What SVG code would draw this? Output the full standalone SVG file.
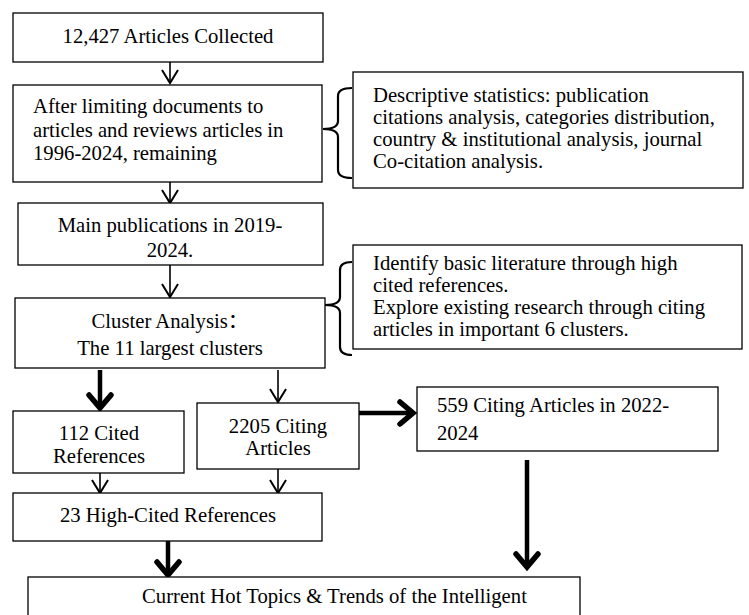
<svg xmlns="http://www.w3.org/2000/svg" width="749" height="615" viewBox="0 0 749 615">
<style>
.box{fill:#fff;stroke:#000;stroke-width:1.3}
.t{font-family:"Liberation Serif","Times New Roman","Noto Sans CJK SC",serif;font-size:20.7px;fill:#000}
.c{text-anchor:middle}
.thin{stroke:#000;stroke-width:1.6;fill:none}
.thick{stroke:#000;stroke-width:4.5;fill:none}
.brace{stroke:#000;stroke-width:2.2;fill:none}
</style>
<defs>
<marker id="hThin" markerUnits="userSpaceOnUse" orient="auto" refX="0" refY="0" overflow="visible" markerWidth="20" markerHeight="20">
<path d="M-13,-8 L0,0 L-13,8" fill="none" stroke="#000" stroke-width="2"/>
</marker>
<marker id="hThick" markerUnits="userSpaceOnUse" orient="auto" refX="0" refY="0" overflow="visible" markerWidth="30" markerHeight="30">
<path d="M-14,-11 L-1,0 L-14,11" fill="none" stroke="#000" stroke-width="5.5" stroke-linecap="round" stroke-linejoin="miter"/>
</marker>
<clipPath id="clip2"><rect x="13" y="85" width="309" height="85"/></clipPath>
</defs>
<rect width="749" height="615" fill="#fff"/>

<g id="connectors">
<line class="thin" x1="170" y1="62" x2="170" y2="83" marker-end="url(#hThin)"/>
<line class="thin" x1="170" y1="182" x2="170" y2="203" marker-end="url(#hThin)"/>
<line class="thin" x1="170" y1="265" x2="170" y2="297" marker-end="url(#hThin)"/>
<line class="thick" x1="100" y1="370" x2="100" y2="409" marker-end="url(#hThick)"/>
<line class="thin" x1="278" y1="370" x2="278" y2="402" marker-end="url(#hThin)"/>
<line class="thick" x1="359" y1="413" x2="414" y2="413" marker-end="url(#hThick)"/>
<line class="thick" x1="527" y1="460" x2="527" y2="568" marker-end="url(#hThick)"/>
<line class="thin" x1="100" y1="473" x2="100" y2="493" marker-end="url(#hThin)"/>
<line class="thin" x1="278" y1="469" x2="278" y2="493" marker-end="url(#hThin)"/>
<line class="thick" x1="168" y1="541" x2="168" y2="576" marker-end="url(#hThick)"/>
<path class="brace" d="M352,88 Q338,88 338,96 V121 Q338,129 323,129 Q338,129 338,137 V170 Q338,178 352,178"/>
<path class="brace" d="M352,262 Q340,262 340,270 V297 Q340,305 325,305 Q340,305 340,313 V347 Q340,355 352,355"/>
</g>

<g id="n1">
<rect class="box" x="13" y="13" width="310" height="49"/>
<text class="t c" x="168" y="43">12,427 Articles Collected</text>
</g>

<g id="n2">
<rect class="box" x="13" y="85" width="309" height="97"/>
<g clip-path="url(#clip2)">
<text class="t" x="33" y="113">After limiting documents to</text>
<text class="t" x="33" y="137">articles and reviews articles in</text>
<text class="t" x="33" y="160">1996-2024, remaining</text>
</g>
</g>

<g id="n3">
<rect class="box" x="353" y="72" width="390" height="116"/>
<text class="t" x="373" y="102">Descriptive statistics: publication</text>
<text class="t" x="373" y="124">citations analysis, categories distribution,</text>
<text class="t" x="373" y="146">country &amp; institutional analysis, journal</text>
<text class="t" x="373" y="168">Co-citation analysis.</text>
</g>

<g id="n4">
<rect class="box" x="18" y="203" width="305" height="62"/>
<text class="t c" x="170" y="232">Main publications in 2019-</text>
<text class="t c" x="170" y="257">2024.</text>
</g>

<g id="n5">
<rect class="box" x="15" y="298" width="310" height="70"/>
<text class="t c" x="170" y="328">Cluster Analysis：</text>
<text class="t c" x="170" y="355">The 11 largest clusters</text>
</g>

<g id="n6">
<rect class="box" x="353" y="245" width="389" height="104"/>
<text class="t" x="373" y="270">Identify basic literature through high</text>
<text class="t" x="373" y="292">cited references.</text>
<text class="t" x="373" y="314">Explore existing research through citing</text>
<text class="t" x="373" y="336">articles in important 6 clusters.</text>
</g>

<g id="n7">
<rect class="box" x="13" y="411" width="171" height="62"/>
<text class="t c" x="99" y="440">112 Cited</text>
<text class="t c" x="99" y="463">References</text>
</g>

<g id="n8">
<rect class="box" x="197" y="403" width="162" height="66"/>
<text class="t c" x="278" y="433">2205 Citing</text>
<text class="t c" x="278" y="455">Articles</text>
</g>

<g id="n9">
<rect class="box" x="417" y="387" width="301" height="64"/>
<text class="t" x="437" y="412">559 Citing Articles in 2022-</text>
<text class="t" x="437" y="440">2024</text>
</g>

<g id="n10">
<rect class="box" x="13" y="493" width="309" height="48"/>
<text class="t c" x="168" y="522">23 High-Cited References</text>
</g>

<g id="n11">
<rect class="box" x="28" y="577" width="552" height="60"/>
<text class="t" x="142" y="603">Current Hot Topics &amp; Trends of the Intelligent</text>
</g>
</svg>
